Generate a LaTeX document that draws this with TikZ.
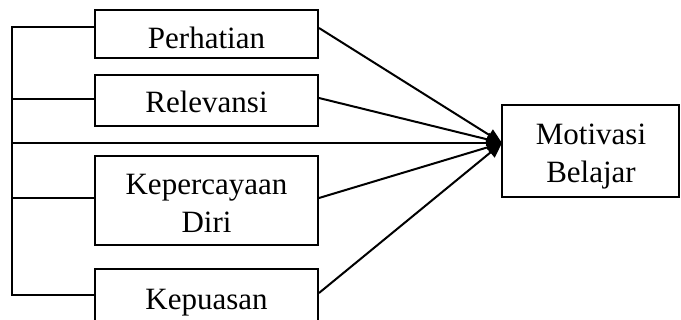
\documentclass[tikz,border=0pt]{standalone}
\usepackage{fontspec}
\setmainfont{Liberation Serif}
\usetikzlibrary{arrows.meta}
\begin{document}
\begin{tikzpicture}[x=1pt,y=-1pt,
  box/.style={draw,line width=2pt,minimum width=223pt,inner sep=0pt},
  lbl/.style={font=\fontsize{31}{38}\selectfont,align=center,inner sep=0pt,anchor=base},
  conn/.style={line width=2pt},
  arr/.style={line width=2pt,-{Triangle[length=15pt,width=13pt]}}]
\useasboundingbox (0,0) rectangle (681,320);
\clip (0,0) rectangle (681,320);
% boxes
\node[box,minimum height=48pt] (p) at (206.5,34) {};
\node[box,minimum height=51pt] (r) at (206.5,100.5) {};
\node[box,minimum height=89pt] (k) at (206.5,200.5) {};
\node[box,minimum height=70pt] (q) at (206.5,304) {};
\node[draw,line width=2pt,inner sep=0pt,minimum width=177pt,minimum height=92pt] (m) at (590.5,151) {};
% labels
\node[lbl] (pt) at (206.5,49) {Perhatian};
\node[lbl] (rt) at (206.5,113) {Relevansi};
\node[lbl] (kt) at (206.5,233) {Kepercayaan\\Diri};
\node[lbl] (qt) at (206.5,310) {Kepuasan};
\node[lbl] (mt) at (591,183) {Motivasi\\Belajar};
% spine
\coordinate (s1) at (12,27);
\coordinate (s2) at (12,99);
\coordinate (s3) at (12,143);
\coordinate (s4) at (12,198);
\coordinate (s5) at (12,295);
\coordinate (tip) at (502,143);
\draw[conn] (p.west |- s1) -- (s1) -- (s5) -- (q.west |- s5);
\draw[conn] (s2) -- (r.west |- s2);
\draw[conn] (s4) -- (k.west |- s4);
% arrows
\draw[arr] (s3) -- (tip);
\draw[arr] ([yshift=6pt]p.east) -- (tip);
\draw[arr] ([yshift=2.5pt]r.east) -- (tip);
\draw[arr] ([yshift=2.5pt]k.east) -- (tip);
\draw[arr] ([yshift=11pt]q.east) -- (tip);
\end{tikzpicture}
\end{document}
